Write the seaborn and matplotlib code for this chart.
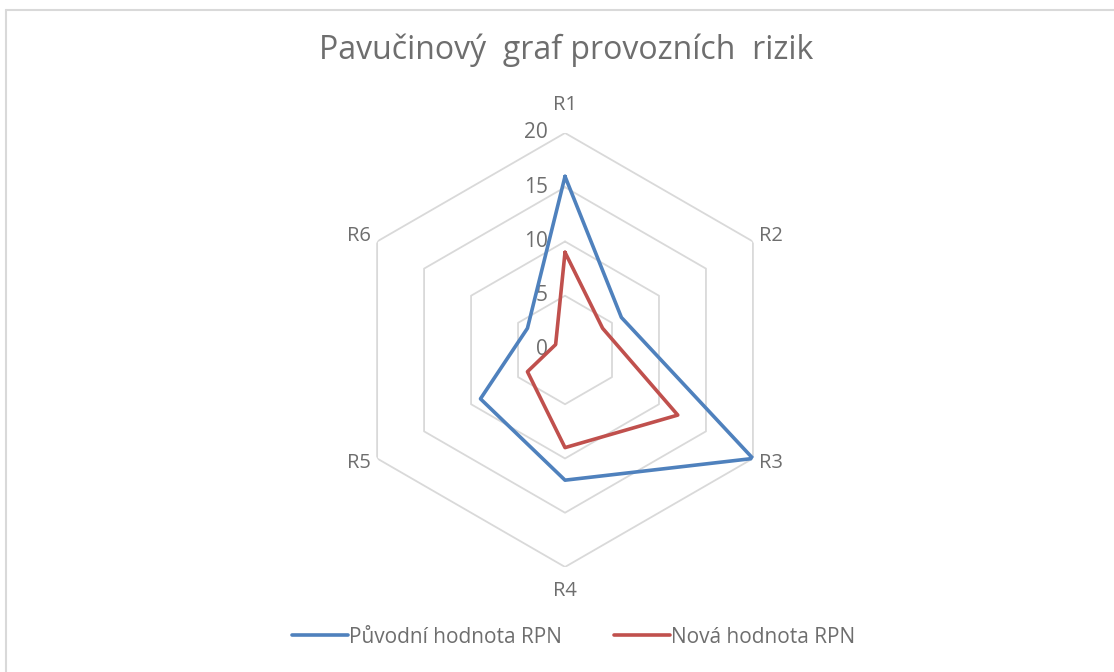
import numpy as np
import pandas as pd
import seaborn as sns
import matplotlib.pyplot as plt
from matplotlib.lines import Line2D

# data
categories = ["R1", "R2", "R3", "R4", "R5", "R6"]
puvodni = [16, 6, 20, 12, 9, 4]
nova = [9, 4, 12, 9, 4, 1]
ring_ticks = [0, 5, 10, 15, 20]
series_names = ["Původní hodnota RPN", "Nová hodnota RPN"]
colors = ["#4F81BD", "#C0504D"]
text_color = "#6E6E6E"
grid_color = "#D9D9D9"

sns.set_theme(style="white")
plt.rcParams["font.family"] = ["Open Sans", "DejaVu Sans"]

n = len(categories)
theta = np.linspace(0, 2 * np.pi, n, endpoint=False)
# close the loop at 2*pi so seaborn does not merge it with the first point
theta_closed = np.append(theta, 2 * np.pi)

rows = []
for name, vals in zip(series_names, [puvodni, nova]):
    closed = list(vals) + [vals[0]]
    for t, v in zip(theta_closed, closed):
        rows.append({"theta": t, "value": v, "series": name})
df = pd.DataFrame(rows)

fig = plt.figure(figsize=(11.14, 6.72), dpi=100)
ax = fig.add_axes([0.3124, 0.1563, 0.3896, 0.6458], projection="polar")
ax.set_theta_offset(np.pi / 2)
ax.set_theta_direction(-1)
ax.grid(False)
ax.set_xticks([])
ax.set_yticks([])
ax.spines["polar"].set_visible(False)
ax.patch.set_alpha(0)

# hexagonal grid
for r in ring_ticks[1:]:
    ax.plot(theta_closed, [r] * (n + 1), color=grid_color, lw=1.3, zorder=1)

# ring labels along R1 axis
for r in ring_ticks:
    ax.annotate(str(r), xy=(0, r), xytext=(-17, 0), textcoords="offset pixels",
                ha="right", va="center", fontsize=15, color=text_color, zorder=2)

sns.lineplot(data=df, x="theta", y="value", hue="series", sort=False,
             palette=colors, linewidth=2.6, ax=ax, legend=False, zorder=3)
ax.set_xlabel("")
ax.set_ylabel("")

# category labels
label_offsets = [(0, 28, "center"), (6, 5, "left"), (6, -5, "left"),
                 (0, -24, "center"), (-6, -5, "right"), (-6, 5, "right")]
for t, cat, (dx, dy, ha) in zip(theta, categories, label_offsets):
    ax.annotate(cat, xy=(t, 20), xytext=(dx, dy), textcoords="offset pixels",
                ha=ha, va="center", fontsize=14.5, color=text_color)

ax.set_ylim(0, 20)

fig.suptitle("Pavučinový  graf provozních  rizik", x=0.508, y=0.95,
             fontsize=23, color=text_color)

handles = [Line2D([0], [0], color=c, lw=2.6) for c in colors]
fig.legend(handles, series_names, loc="center", bbox_to_anchor=(0.515, 0.052),
           ncol=2, frameon=False, fontsize=15, labelcolor=text_color,
           handlelength=2.7, handletextpad=0.05, columnspacing=2.5)

# chart border like the original frame
fig.add_artist(Line2D([6 / 1114, 1], [1 - 10 / 672, 1 - 10 / 672],
                      transform=fig.transFigure, color=grid_color, lw=1.5))
fig.add_artist(Line2D([6 / 1114, 6 / 1114], [0, 1 - 10 / 672],
                      transform=fig.transFigure, color=grid_color, lw=1.5))

fig.savefig("out.png", dpi=100, facecolor="white")
